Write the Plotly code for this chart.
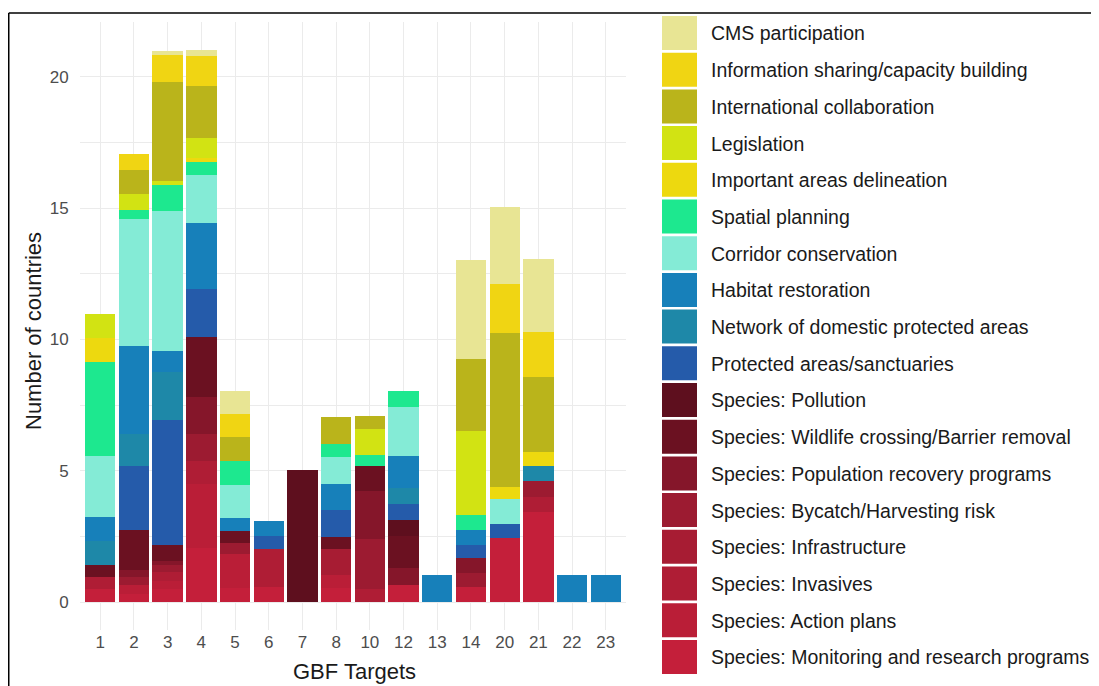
import plotly.graph_objects as go

# ---------------- data ----------------
targets = ["1", "2", "3", "4", "5", "6", "7", "8", "10", "12", "13", "14", "20", "21", "22", "23"]

# series listed bottom -> top of each stack
series_names = [
    "Species: Monitoring and research programs",
    "Species: Action plans",
    "Species: Invasives",
    "Species: Infrastructure",
    "Species: Bycatch/Harvesting risk",
    "Species: Population recovery programs",
    "Species: Wildlife crossing/Barrier removal",
    "Species: Pollution",
    "Protected areas/sanctuaries",
    "Network of domestic protected areas",
    "Habitat restoration",
    "Corridor conservation",
    "Spatial planning",
    "Important areas delineation",
    "Legislation",
    "International collaboration",
    "Information sharing/capacity building",
    "CMS participation",
]

monitoring     = [0.52, 0.32, 0.50, 2.07, 0.55, 0.58, 0, 0.55, 0, 0.65, 0, 0.57, 2.45, 3.45, 0, 0]
action_plans   = [0, 0.33, 0.30, 2.42, 1.30, 0, 0, 0.50, 0, 0, 0, 0, 0, 0, 0, 0]
invasives      = [0.43, 0, 0.34, 0.89, 0, 1.45, 0, 0, 0.50, 0, 0, 0, 0, 0.57, 0, 0]
infrastructure = [0, 0, 0, 0, 0, 0, 0, 0.97, 0, 0, 0, 0, 0, 0, 0, 0]
bycatch        = [0, 0.31, 0.30, 1.02, 0.42, 0, 0, 0, 1.93, 0, 0, 0.55, 0, 0.61, 0, 0]
pop_recovery   = [0, 0.29, 0.15, 1.42, 0, 0, 0, 0, 1.81, 0.66, 0, 0.55, 0, 0, 0, 0]
wildlife_cross = [0.48, 1.51, 0.61, 2.29, 0.45, 0, 0, 0.47, 0.95, 1.21, 0, 0, 0, 0, 0, 0]
pollution      = [0, 0, 0, 0, 0, 0, 5.05, 0, 0, 0.61, 0, 0, 0, 0, 0, 0]
protected      = [0, 2.43, 4.73, 1.83, 0, 0.49, 0, 1.04, 0, 0.60, 0, 0.53, 0.52, 0, 0, 0]
network        = [0.92, 1.21, 1.82, 0, 0, 0, 0, 0, 0, 0.61, 0, 0, 0, 0.56, 0, 0]
habitat        = [0.90, 3.37, 0.80, 2.50, 0.48, 0.57, 0, 0.97, 0, 1.23, 1.05, 0.57, 0, 0, 1.05, 1.05]
corridor       = [2.30, 4.83, 5.34, 1.82, 1.28, 0, 0, 1.04, 0, 1.85, 0, 0, 0.95, 0, 0, 0]
spatial        = [3.60, 0.32, 0.98, 0.48, 0.91, 0, 0, 0.47, 0.42, 0.63, 0, 0.55, 0, 0, 0, 0]
important      = [0.90, 0, 0, 0.15, 0, 0, 0, 0, 0, 0, 0, 0, 0.48, 0.53, 0, 0]
legislation    = [0.93, 0.61, 0.16, 0.76, 0, 0, 0, 0, 0.98, 0, 0, 3.21, 0, 0, 0, 0]
international  = [0, 0.92, 3.75, 2.00, 0.89, 0, 0, 1.06, 0.50, 0, 0, 2.73, 5.84, 2.86, 0, 0]
info_sharing   = [0, 0.60, 1.05, 1.15, 0.87, 0, 0, 0, 0, 0, 0, 0, 1.89, 1.70, 0, 0]
cms            = [0, 0, 0.16, 0.22, 0.91, 0, 0, 0, 0, 0, 0, 3.78, 2.92, 2.80, 0, 0]

series_values = [monitoring, action_plans, invasives, infrastructure, bycatch, pop_recovery,
                 wildlife_cross, pollution, protected, network, habitat, corridor, spatial,
                 important, legislation, international, info_sharing, cms]

series_colors = [
    "#C41F3A", "#BA1E37", "#AF1D35", "#A71C33", "#9C1B31", "#85162A",
    "#6B1121", "#5E0F1E", "#255BAA", "#1E88A8", "#1780BA", "#84EBD6",
    "#1DE88F", "#EDD90F", "#D2E313", "#BAB41B", "#F0D513", "#E8E594",
]

x_title = "GBF Targets"
y_title = "Number of countries"

# ---------------- geometry (page offset of 8px from body margin) ----------------
OFF = 8
W, H = 1091, 678
ML, MT = 72, 14
PW, PH = 546, 608
MR = W - ML - PW
MB = H - MT - PH

FONT = "Liberation Sans, Arial, sans-serif"


def px_x(px):
    return (px - OFF - ML) / PW


def px_y(py):
    return (H - MB - (py - OFF)) / PH


fig = go.Figure()
for name, vals, col in zip(series_names, series_values, series_colors):
    fig.add_trace(go.Bar(
        x=targets, y=vals, name=name, marker_color=col,
        marker_line_width=0, showlegend=False,
    ))

ymax = 21.03
shapes = []
annotations = []

# outer frame (top and left edges)
shapes.append(dict(type="line", xref="paper", yref="paper",
                   x0=px_x(OFF + 0.75), x1=px_x(W + OFF + 5), y0=px_y(13), y1=px_y(13),
                   line=dict(color="black", width=1.5)))
shapes.append(dict(type="line", xref="paper", yref="paper",
                   x0=px_x(OFF + 0.75), x1=px_x(OFF + 0.75), y0=px_y(13), y1=px_y(H + OFF + 5),
                   line=dict(color="black", width=1.5)))

# custom legend (top -> bottom = reverse stacking order)
legend_items = list(zip(series_names, series_colors))[::-1]
row_h = 36.7
for i, (name, col) in enumerate(legend_items):
    cy = 33.5 + i * row_h
    shapes.append(dict(type="rect", xref="paper", yref="paper",
                       x0=px_x(662), x1=px_x(697),
                       y0=px_y(cy + 16.5), y1=px_y(cy - 17.5),
                       fillcolor=col, line=dict(width=0)))
    annotations.append(dict(xref="paper", yref="paper", x=px_x(709), y=px_y(cy),
                            text=name, showarrow=False, xanchor="left", yanchor="middle",
                            font=dict(family=FONT, size=19.5, color="#1A1A1A")))

# axis titles
annotations.append(dict(xref="paper", yref="paper", x=px_x(354), y=px_y(671),
                        text=x_title, showarrow=False, xanchor="center", yanchor="middle",
                        font=dict(family=FONT, size=22, color="#1A1A1A")))
annotations.append(dict(xref="paper", yref="paper", x=px_x(33), y=px_y(331),
                        text=y_title, showarrow=False, xanchor="center", yanchor="middle",
                        textangle=-90,
                        font=dict(family=FONT, size=22, color="#1A1A1A")))

fig.update_layout(
    width=W, height=H,
    margin=dict(l=ML, r=MR, t=MT, b=MB, autoexpand=False),
    barmode="stack",
    bargap=0.1,
    paper_bgcolor="white",
    plot_bgcolor="white",
    font=dict(family=FONT, color="#4D4D4D"),
    shapes=shapes,
    annotations=annotations,
    xaxis=dict(
        type="category", automargin=False,
        categoryorder="array", categoryarray=targets,
        showgrid=True, gridcolor="#EBEBEB", gridwidth=1.1,
        zeroline=False, showline=False, ticks="",
        tickfont=dict(size=17, color="#4D4D4D"),
        range=[-0.6, len(targets) - 0.4],
    ),
    yaxis=dict(
        automargin=False,
        range=[-0.05 * ymax, 1.05 * ymax],
        tickvals=[0, 5, 10, 15, 20],
        showgrid=True, gridcolor="#EBEBEB", gridwidth=1.1,
        minor=dict(dtick=2.5, tick0=0, showgrid=True, gridcolor="#EBEBEB", gridwidth=0.5),
        zeroline=False, showline=False,
        ticks="outside", ticklen=7, tickcolor="rgba(0,0,0,0)",
        tickfont=dict(size=17, color="#4D4D4D"),
    ),
)

fig.write_html("out.html")
